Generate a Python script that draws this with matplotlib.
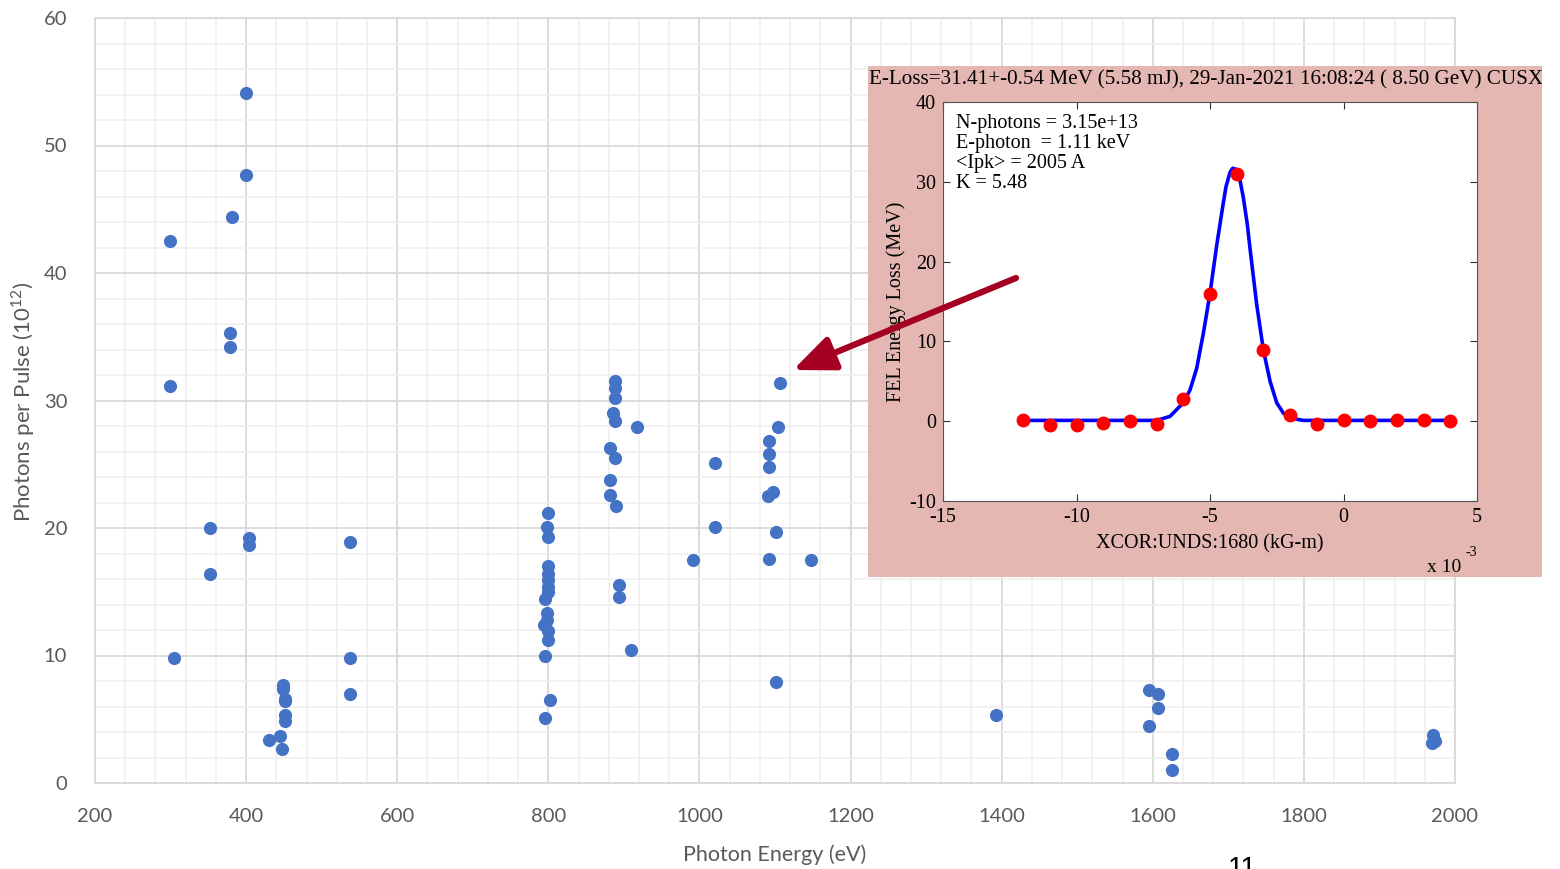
import matplotlib
matplotlib.use("Agg")
import matplotlib.pyplot as plt
import numpy as np
from matplotlib.patches import Rectangle

# main scatter: photon energy (eV) vs photons per pulse (1e12)
energy = [400, 400, 381, 299, 379, 379, 299,
          352, 352, 404, 404, 305,
          537, 537, 537,
          449, 449, 451, 451, 452, 451, 430, 445, 448,
          800, 798, 800, 800, 800, 800, 800, 800, 796, 798, 798, 794, 800, 800, 796, 802, 796,
          888, 888, 888, 885, 888, 882, 888, 882, 882, 890, 917, 893, 893, 910,
          992, 1021, 1021,
          1107, 1104, 1092, 1092, 1092, 1097, 1091, 1101, 1092, 1148, 1101,
          1392,
          1595, 1607, 1607, 1595, 1626, 1626,
          1971, 1969, 1974]
photons = [54.1, 47.7, 44.4, 42.5, 35.3, 34.2, 31.1,
           20.0, 16.4, 19.2, 18.7, 9.8,
           18.9, 9.8, 7.0,
           7.7, 7.4, 6.6, 6.4, 5.3, 4.9, 3.4, 3.7, 2.7,
           21.2, 20.1, 19.3, 17.0, 16.4, 15.9, 15.4, 15.0, 14.4, 13.3, 12.8, 12.4, 11.9, 11.2, 10.0, 6.5, 5.1,
           31.5, 31.0, 30.2, 29.0, 28.4, 26.3, 25.5, 23.8, 22.6, 21.7, 27.9, 15.5, 14.6, 10.4,
           17.5, 25.1, 20.1,
           31.4, 27.9, 26.8, 25.8, 24.8, 22.8, 22.5, 19.7, 17.6, 17.5, 7.9,
           5.3,
           7.3, 7.0, 5.9, 4.5, 2.3, 1.0,
           3.8, 3.1, 3.3]

# inset: corrector scan
xcor = [-12, -11, -10, -9, -8, -7, -6, -5, -4, -3, -2, -1, 0, 1, 2, 3, 4]
eloss = [0.2, -0.5, -0.5, -0.2, 0.0, -0.3, 2.8, 15.9, 31.0, 8.9, 0.8, -0.4, 0.1, 0.0, 0.1, 0.1, 0.0]
# fitted curve
fit_x = [-12, -7, -6.5, -6, -5.75, -5.5, -5.25, -5, -4.75, -4.5, -4.4, -4.25, -4.15, -4.05,
         -3.9, -3.75, -3.6, -3.5, -3.25, -3, -2.75, -2.5, -2.25, -2, -1.5, 4]
fit_y = [0.1, 0.1, 0.6, 2.3, 3.9, 6.6, 11.0, 16.0, 22.0, 27.4, 29.4, 31.2, 31.7, 31.6,
         30.6, 28.0, 24.6, 21.6, 14.6, 8.9, 5.0, 2.3, 1.0, 0.4, 0.1, 0.1]

W, H = 1560, 869
plt.rcParams['mathtext.fontset'] = 'custom'
plt.rcParams['mathtext.rm'] = 'Lato'
plt.rcParams['axes.unicode_minus'] = False
fig = plt.figure(figsize=(W / 100, H / 100), dpi=100)

def fx(px):
    return px / W

def fy(py):
    return 1 - py / H

#%% main chart
ax = fig.add_axes([fx(95), fy(783), fx(1455) - fx(95), fy(18) - fy(783)])
ax.scatter(energy, photons, s=90, color="#4472C4", zorder=3, linewidths=0)
ax.set_xlim(200, 2000)
ax.set_ylim(0, 60)
ax.set_xticks(np.arange(200, 2001, 200))
ax.set_yticks(np.arange(0, 61, 10))
ax.set_xticks(np.arange(200, 2001, 40), minor=True)
ax.set_yticks(np.arange(0, 61, 2), minor=True)
ax.grid(True, which="major", color="#D9D9D9", lw=1.3, zorder=1)
ax.grid(True, which="minor", color="#EFEFEF", lw=1.1, zorder=0)
ax.tick_params(which="both", length=0, labelsize=14.5, labelcolor="#595959")
ax.tick_params(axis="x", pad=18)
ax.tick_params(axis="y", pad=20)
for lab in ax.get_xticklabels() + ax.get_yticklabels():
    lab.set_family("Lato")
for s in ax.spines.values():
    s.set_color("#D9D9D9")
    s.set_linewidth(1.3)
fig.text(fx(775), fy(855), "Photon Energy (eV)", fontsize=15.5, color="#595959", family="Lato",
         ha="center", va="center")
fig.text(fx(23), fy(402), "Photons per Pulse (10$^{12}$)", fontsize=16, color="#595959", family="Lato",
         ha="center", va="center", rotation=90)

#%% inset (pasted screenshot)
bg = Rectangle((fx(868), fy(577)), fx(1542) - fx(868), fy(66) - fy(577),
               transform=fig.transFigure, facecolor="#E4B7B2", edgecolor="none", zorder=5)
fig.patches.append(bg)
clip = Rectangle((fx(868), fy(577)), fx(1542) - fx(868), fy(66) - fy(577), transform=fig.transFigure)

t = fig.text(fx(869), fy(80), "E-Loss=31.41+-0.54 MeV (5.58 mJ), 29-Jan-2021 16:08:24 ( 8.50 GeV) CUSXR",
             family="Liberation Serif", fontsize=15.2, va="center", ha="left", zorder=6)
t.set_clip_path(clip)

ins = fig.add_axes([fx(943), fy(501), fx(1477) - fx(943), fy(102) - fy(501)], zorder=7)
ins.plot(fit_x, fit_y, color="#0000FF", lw=2.6, zorder=2)
ins.plot(xcor, eloss, "o", color="#FF0000", ms=9, zorder=3)
ins.set_xlim(-15, 5)
ins.set_ylim(-10, 40)
ins.set_xticks([-15, -10, -5, 0, 5])
ins.set_yticks([-10, 0, 10, 20, 30, 40])
ins.tick_params(direction="in", top=True, right=True, length=5, labelsize=14.5, pad=5, color="#333333")
for lab in ins.get_xticklabels() + ins.get_yticklabels():
    lab.set_family("Liberation Serif")
for s in ins.spines.values():
    s.set_color("#555555")
ins.set_xlabel("XCOR:UNDS:1680 (kG-m)", family="Liberation Serif", fontsize=14.5, labelpad=5)
ins.set_ylabel("FEL Energy Loss (MeV)", family="Liberation Serif", fontsize=14.5, labelpad=2)
ins.text(0.025, 0.97, "N-photons = 3.15e+13\nE-photon  = 1.11 keV\n<Ipk> = 2005 A\nK = 5.48",
         transform=ins.transAxes, family="Liberation Serif", fontsize=14.5, va="top", ha="left",
         linespacing=1.08)
fig.text(fx(1427), fy(568), "x 10", family="Liberation Serif", fontsize=14, va="center", ha="left", zorder=8)
fig.text(fx(1466), fy(553), "-3", family="Liberation Serif", fontsize=10, va="center", ha="left", zorder=8)

#%% arrow and page number
fig.add_artist(plt.Annotation("", xy=(fx(793), fy(370)), xytext=(fx(1016), fy(278)),
                              xycoords="figure fraction", textcoords="figure fraction",
                              arrowprops=dict(arrowstyle="-|>,head_length=0.9,head_width=0.38",
                                              color="#A50021", lw=4.5,
                                              mutation_scale=28, shrinkA=0, shrinkB=0),
                              zorder=10))
fig.text(fx(1242), fy(856), "11", fontsize=20, va="top", ha="center", family="Liberation Sans")

fig.savefig("out.png", dpi=100)
